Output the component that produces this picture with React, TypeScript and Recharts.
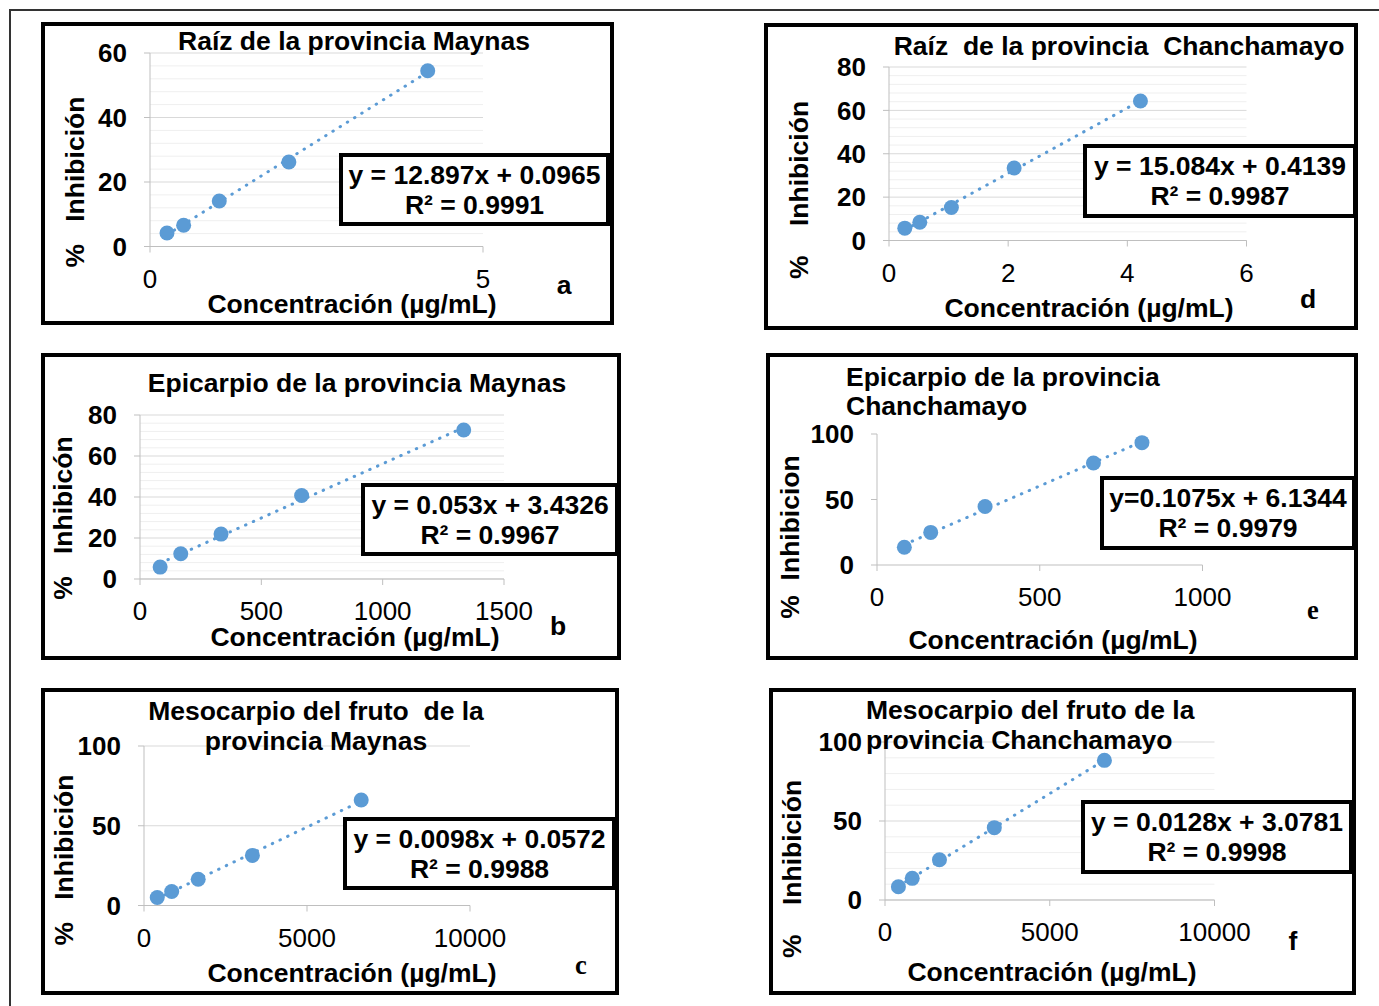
import React from "react";
import { ScatterChart, Scatter, XAxis, YAxis, CartesianGrid } from "recharts";

const BLUE = "#5b9bd5";
const SANS = '"Liberation Sans", Arial, Helvetica, sans-serif';
const SERIF = '"Liberation Serif", "Times New Roman", serif';

// a) Raíz - Maynas
const concA = [0.255, 0.505, 1.04, 2.085, 4.17];
const inhA = [4.2, 6.6, 14.1, 26.2, 54.5];
const xTicksA = [0, 5];
const yTicksA = [0, 20, 40, 60];
const minorA = [4, 8, 12, 16, 24, 28, 32, 36, 44, 48, 52, 56];

// d) Raíz - Chanchamayo
const concD = [0.265, 0.517, 1.047, 2.1, 4.22];
const inhD = [5.7, 8.4, 15.2, 33.4, 64.3];
const xTicksD = [0, 2, 4, 6];
const yTicksD = [0, 20, 40, 60, 80];
const minorD = [4, 8, 12, 16, 24, 28, 32, 36, 44, 48, 52, 56, 64, 68, 72, 76];

// b) Epicarpio - Maynas
const concB = [83, 168, 334, 666, 1334];
const inhB = [5.8, 12.3, 21.9, 40.7, 72.7];
const xTicksB = [0, 500, 1000, 1500];
const yTicksB = [0, 20, 40, 60, 80];
const minorB = [4, 8, 12, 16, 24, 28, 32, 36, 44, 48, 52, 56, 64, 68, 72, 76];

// e) Epicarpio - Chanchamayo
const concE = [84, 165, 332, 665, 814];
const inhE = [13.5, 24.9, 44.7, 77.9, 93.4];
const xTicksE = [0, 500, 1000];
const yTicksE = [0, 50, 100];

// c) Mesocarpio - Maynas
const concC = [406, 850, 1663, 3325, 6663];
const inhC = [5.0, 8.8, 16.5, 31.4, 66.1];
const xTicksC = [0, 5000, 10000];
const yTicksC = [0, 50, 100];

// f) Mesocarpio - Chanchamayo
const concF = [407, 826, 1653, 3317, 6659];
const inhF = [8.4, 13.7, 25.5, 45.8, 88.4];
const xTicksF = [0, 5000, 10000];
const yTicksF = [0, 50, 100];
const minorF = [10, 20, 30, 40, 60, 70, 80, 90];

const XLABEL = "Concentración (µg/mL)";

type Txt = { text: string; x: number; y: number; left?: boolean };

type PanelProps = {
  box: [number, number, number, number];
  plot: [number, number, number, number]; // x0, x1, yTop, yBottom
  conc: number[];
  inh: number[];
  xTicks: number[];
  yTicks: number[];
  minor?: number[];
  major?: boolean;
  titles: Txt[];
  xlabel: [number, number];
  ylabel: { text: string; x: number; y: number };
  letter: { text: string; x: number; y: number; serif?: boolean };
  legend: { box: [number, number, number, number]; eq: string; r2: string };
};

function T({ x, y, left, children, family = SANS, size = 26.5 }: any) {
  return (
    <div
      style={{
        position: "absolute",
        left: x,
        top: y,
        transform: left ? "translate(0,-50%)" : "translate(-50%,-50%)",
        fontFamily: family,
        fontWeight: 700,
        fontSize: size,
        lineHeight: 1,
        whiteSpace: "pre",
        color: "#000",
      }}
    >
      {children}
    </div>
  );
}

function Panel(p: PanelProps) {
  const mL = 10, mR = 40, mT = 20, mB = 10, yW = 70, xH = 60;
  const [x0, x1, yT, yB] = p.plot;
  const data = p.conc.map((c, i) => ({ x: c, y: p.inh[i] }));
  const xMax = p.xTicks[p.xTicks.length - 1];
  const yMax = p.yTicks[p.yTicks.length - 1];
  const [bx, by, bw, bh] = p.box;
  const [lx, ly, lw, lh] = p.legend.box;
  return (
    <>
      <div
        style={{
          position: "absolute", left: bx, top: by, width: bw, height: bh,
          border: "4px solid #000", boxSizing: "border-box", background: "#fff",
        }}
      />
      <div style={{ position: "absolute", left: x0 - yW - mL, top: yT - mT }}>
        <ScatterChart
          width={mL + yW + (x1 - x0) + mR}
          height={mT + (yB - yT) + xH + mB}
          margin={{ top: mT, right: mR, bottom: mB, left: mL }}
        >
          {p.minor && (
            <CartesianGrid vertical={false} horizontalValues={p.minor} stroke="#efefef" />
          )}
          {p.major && <CartesianGrid vertical={false} stroke="#d9d9d9" />}
          <XAxis
            type="number"
            dataKey="x"
            domain={[0, xMax]}
            ticks={p.xTicks}
            interval={0}
            height={xH}
            axisLine={{ stroke: "#bfbfbf" }}
            tickLine={{ stroke: "#bfbfbf" }}
            tickSize={6}
            tickMargin={17}
            tick={{ fontSize: 26, fill: "#000", fontFamily: SANS }}
          />
          <YAxis
            type="number"
            dataKey="y"
            domain={[0, yMax]}
            ticks={p.yTicks}
            interval={0}
            width={yW}
            axisLine={{ stroke: "#bfbfbf" }}
            tickLine={{ stroke: "#bfbfbf" }}
            tickSize={6}
            tickMargin={17}
            tick={{ fontSize: 26, fontWeight: 700, fill: "#000", fontFamily: SANS }}
          />
          <Scatter
            data={data}
            fill={BLUE}
            isAnimationActive={false}
            line={{ stroke: BLUE, strokeWidth: 3, strokeDasharray: "0.5 8", strokeLinecap: "round" }}
            lineType="fitting"
            shape={(s: any) => <circle cx={s.cx} cy={s.cy} r={7.5} fill={BLUE} />}
          />
        </ScatterChart>
      </div>
      {p.titles.map((t, i) => (
        <T key={i} x={t.x} y={t.y} left={t.left}>{t.text}</T>
      ))}
      <T x={p.xlabel[0]} y={p.xlabel[1]}>{XLABEL}</T>
      <div
        style={{
          position: "absolute", left: p.ylabel.x, top: p.ylabel.y,
          transform: "translate(-50%,-50%) rotate(-90deg)",
          fontFamily: SANS, fontWeight: 700, fontSize: 26.5, lineHeight: 1, whiteSpace: "pre",
        }}
      >
        {p.ylabel.text}
      </div>
      <T x={p.letter.x} y={p.letter.y} family={p.letter.serif ? SERIF : SANS}>{p.letter.text}</T>
      <div
        style={{
          position: "absolute", left: lx, top: ly, width: lw, height: lh,
          border: "4px solid #000", boxSizing: "border-box", background: "#fff",
          display: "flex", flexDirection: "column", alignItems: "center", justifyContent: "center",
          fontFamily: SANS, fontWeight: 700, fontSize: 26.5, lineHeight: "30px", whiteSpace: "pre",
        }}
      >
        <div>{p.legend.eq}</div>
        <div>{p.legend.r2}</div>
      </div>
    </>
  );
}

export default function App() {
  return (
    <div style={{ position: "absolute", left: 0, top: 0, width: 1379, height: 1006, background: "#fff", overflow: "hidden" }}>
      <div
        style={{
          position: "absolute", left: 9, top: 9, width: 1400, height: 1020,
          borderTop: "2px solid #333", borderLeft: "2px solid #333",
        }}
      />
      <Panel
        box={[41, 22, 573, 303]}
        plot={[150, 483, 53, 246.5]}
        conc={concA} inh={inhA} xTicks={xTicksA} yTicks={yTicksA} minor={minorA} major
        titles={[{ text: "Raíz de la provincia Maynas", x: 354, y: 41 }]}
        xlabel={[352, 304]}
        ylabel={{ text: "%   Inhibición", x: 75, y: 182 }}
        letter={{ text: "a", x: 564, y: 285 }}
        legend={{ box: [339, 153, 271, 73], eq: "y = 12.897x + 0.0965", r2: "R² = 0.9991" }}
      />
      <Panel
        box={[764, 23, 594, 307]}
        plot={[888.5, 1246, 66.5, 240]}
        conc={concD} inh={inhD} xTicks={xTicksD} yTicks={yTicksD} minor={minorD} major
        titles={[{ text: "Raíz  de la provincia  Chanchamayo", x: 1119, y: 46 }]}
        xlabel={[1089, 308]}
        ylabel={{ text: "%    Inhibición", x: 799, y: 190 }}
        letter={{ text: "d", x: 1308, y: 299 }}
        legend={{ box: [1083, 144, 274, 74], eq: "y = 15.084x + 0.4139", r2: "R² = 0.9987" }}
      />
      <Panel
        box={[41, 353, 580, 307]}
        plot={[140, 504, 415, 579]}
        conc={concB} inh={inhB} xTicks={xTicksB} yTicks={yTicksB} minor={minorB} major
        titles={[{ text: "Epicarpio de la provincia Maynas", x: 357, y: 383 }]}
        xlabel={[355, 637]}
        ylabel={{ text: "%   Inhibicón", x: 63, y: 518 }}
        letter={{ text: "b", x: 558, y: 626 }}
        legend={{ box: [361, 483, 258, 73], eq: "y = 0.053x + 3.4326", r2: "R² = 0.9967" }}
      />
      <Panel
        box={[766, 353, 592, 307]}
        plot={[877, 1202.5, 434, 565]}
        conc={concE} inh={inhE} xTicks={xTicksE} yTicks={yTicksE}
        titles={[
          { text: "Epicarpio de la provincia", x: 846, y: 377, left: true },
          { text: "Chanchamayo", x: 846, y: 406, left: true },
        ]}
        xlabel={[1053, 640]}
        ylabel={{ text: "%  Inhibicion", x: 790, y: 537 }}
        letter={{ text: "e", x: 1313, y: 610, serif: true }}
        legend={{ box: [1100, 476, 256, 74], eq: "y=0.1075x + 6.1344", r2: "R² = 0.9979" }}
      />
      <Panel
        box={[41, 688, 578, 307]}
        plot={[144, 470, 745.5, 905]}
        conc={concC} inh={inhC} xTicks={xTicksC} yTicks={yTicksC} major
        titles={[
          { text: "Mesocarpio del fruto  de la", x: 316, y: 711 },
          { text: "provincia Maynas", x: 316, y: 741 },
        ]}
        xlabel={[352, 973]}
        ylabel={{ text: "%   Inhibición", x: 64, y: 860 }}
        letter={{ text: "c", x: 581, y: 965, serif: true }}
        legend={{ box: [343, 817, 273, 73], eq: "y = 0.0098x + 0.0572", r2: "R² = 0.9988" }}
      />
      <Panel
        box={[769, 688, 587, 307]}
        plot={[884.5, 1214, 741.5, 899.5]}
        conc={concF} inh={inhF} xTicks={xTicksF} yTicks={yTicksF} minor={minorF} major
        titles={[
          { text: "Mesocarpio del fruto de la", x: 866, y: 710, left: true },
          { text: "provincia Chanchamayo", x: 866, y: 740, left: true },
        ]}
        xlabel={[1052, 972]}
        ylabel={{ text: "%    Inhibición", x: 792, y: 869 }}
        letter={{ text: "f", x: 1293, y: 941 }}
        legend={{ box: [1081, 800, 272, 74], eq: "y = 0.0128x + 3.0781", r2: "R² = 0.9998" }}
      />
    </div>
  );
}
